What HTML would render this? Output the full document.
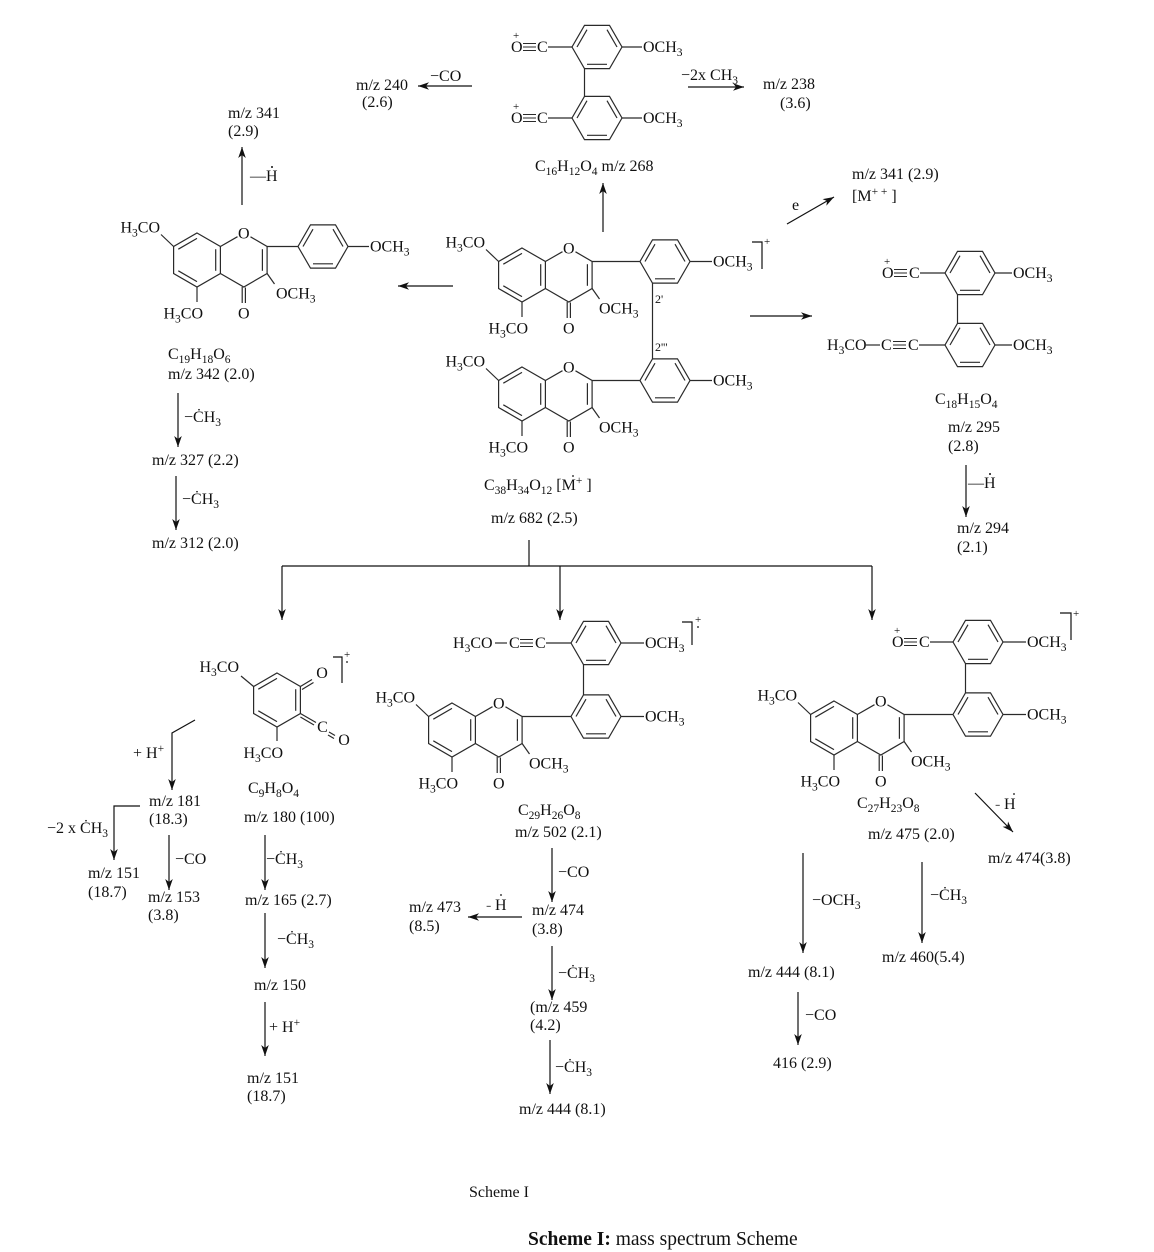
<!DOCTYPE html>
<html><head><meta charset="utf-8"><style>
html,body{margin:0;padding:0;background:#fff}
svg{display:block}
text{font-family:"Liberation Serif",serif;font-size:16px;fill:#111}
.s{font-size:11.5px}
.p{font-size:11px}
.b{stroke:#2a2a2a;stroke-width:1.2;fill:none}
.ar{stroke:#111;stroke-width:1.2;fill:none;marker-end:url(#a)}
.ln{stroke:#111;stroke-width:1.2;fill:none}
</style></head><body>
<svg width="1154" height="1252" viewBox="0 0 1154 1252" xmlns="http://www.w3.org/2000/svg">
<defs>
<marker id="a" markerWidth="12" markerHeight="10" refX="11" refY="5" orient="auto" markerUnits="userSpaceOnUse"><path d="M0,1.2 L11,5 L0,8.8 L3,5 Z" fill="#111"/></marker>
<g id="ph" fill="none" stroke="#2a2a2a" stroke-width="1.2">
<polygon points="25,0 12.5,21.65 -12.5,21.65 -25,0 -12.5,-21.65 12.5,-21.65"/>
<line x1="-20" y1="0" x2="-10" y2="-17.3"/><line x1="10" y1="-17.3" x2="20" y2="0"/><line x1="10" y1="17.3" x2="-10" y2="17.3"/>
</g>
<g id="ra" fill="none" stroke="#2a2a2a" stroke-width="1.2">
<polygon points="0,-27 23.4,-13.5 23.4,13.5 0,27 -23.4,13.5 -23.4,-13.5"/>
<line x1="-18.7" y1="-10.8" x2="0" y2="-21.6"/><line x1="18.7" y1="-10.8" x2="18.7" y2="10.8"/><line x1="0" y1="21.6" x2="-18.7" y2="10.8"/>
</g>
<g id="fl" fill="none" stroke="#2a2a2a" stroke-width="1.2">
<use href="#ra"/>
<line x1="23.4" y1="-13.5" x2="40.5" y2="-23.3"/>
<polyline points="53.5,-23.2 70.1,-13.5 70.1,13.5 46.8,27 23.4,13.5"/>
<line x1="65.4" y1="-10.8" x2="65.4" y2="10.8"/>
<line x1="45.2" y1="27" x2="45.2" y2="43"/><line x1="48.4" y1="27.5" x2="48.4" y2="43"/>
<line x1="-23.4" y1="-13.5" x2="-36" y2="-25.5"/>
<line x1="0" y1="27" x2="0" y2="42"/>
<line x1="70.1" y1="13.5" x2="77.5" y2="24"/>
</g>
<g id="tb" stroke="#2a2a2a" stroke-width="1"><line x1="0" y1="-3.5" x2="13" y2="-3.5"/><line x1="0" y1="0" x2="13" y2="0"/><line x1="0" y1="3.5" x2="13" y2="3.5"/></g>
</defs>

<!-- TOP MOLECULE C16H12O4 -->
<text x="511" y="52">O</text><text class="p" x="513" y="39">+</text><use href="#tb" x="523" y="47"/><text x="537" y="52">C</text>
<line class="b" x1="548" y1="47" x2="572" y2="47"/>
<use href="#ph" x="597" y="47"/>
<line class="b" x1="622" y1="47" x2="642" y2="47"/>
<text x="643" y="52">OCH<tspan class="s" dy="4">3</tspan></text>
<line class="b" x1="584.5" y1="68.65" x2="584.5" y2="96.35"/>
<text x="511" y="123">O</text><text class="p" x="513" y="110">+</text><use href="#tb" x="523" y="118"/><text x="537" y="123">C</text>
<line class="b" x1="548" y1="118" x2="572" y2="118"/>
<use href="#ph" x="597" y="118"/>
<line class="b" x1="622" y1="118" x2="642" y2="118"/>
<text x="643" y="123">OCH<tspan class="s" dy="4">3</tspan></text>
<text x="535" y="171">C<tspan class="s" dy="4">16</tspan><tspan dy="-4">H</tspan><tspan class="s" dy="4">12</tspan><tspan dy="-4">O</tspan><tspan class="s" dy="4">4</tspan><tspan dy="-4"> m/z 268</tspan></text>

<text x="356" y="90">m/z 240</text><text x="362" y="107">(2.6)</text>
<text x="430" y="81">−CO</text>
<line class="ar" x1="472" y1="86" x2="418" y2="86"/>
<text x="681" y="80">−2x CH<tspan class="s" dy="4">3</tspan></text>
<line class="ar" x1="688" y1="87" x2="744" y2="87"/>
<text x="763" y="89">m/z 238</text><text x="780" y="108">(3.6)</text>
<line class="ar" x1="603" y1="232" x2="603" y2="183"/>

<!-- LEFT UPPER -->
<text x="228" y="118">m/z 341</text><text x="228" y="136">(2.9)</text>
<line class="ar" x1="242" y1="205" x2="242" y2="147"/>
<text x="250" y="181">—H</text><circle cx="272" cy="167" r="1" fill="#111"/>
<line class="ar" x1="453" y1="286" x2="398" y2="286"/>

<!-- LEFT FLAVONE -->
<g transform="translate(197,260)">
<use href="#fl"/>
<line class="b" x1="70.1" y1="-13.5" x2="101" y2="-13.5"/>
<use href="#ph" x="126" y="-13.5"/>
<line class="b" x1="151" y1="-13.5" x2="172" y2="-13.5"/>
<text x="173" y="-8.5">OCH<tspan class="s" dy="4">3</tspan></text>
<text x="46.8" y="-21.5" text-anchor="middle">O</text>
<text x="-37" y="-27.5" text-anchor="end">H<tspan class="s" dy="4">3</tspan><tspan dy="-4">CO</tspan></text>
<text x="6" y="58.5" text-anchor="end">H<tspan class="s" dy="4">3</tspan><tspan dy="-4">CO</tspan></text>
<text x="46.8" y="58.5" text-anchor="middle">O</text>
<text x="79" y="38.5">OCH<tspan class="s" dy="4">3</tspan></text>
</g>
<text x="168" y="359">C<tspan class="s" dy="4">19</tspan><tspan dy="-4">H</tspan><tspan class="s" dy="4">18</tspan><tspan dy="-4">O</tspan><tspan class="s" dy="4">6</tspan></text>
<text x="168" y="379">m/z 342 (2.0)</text>
<line class="ar" x1="178" y1="393" x2="178" y2="447"/>
<text x="184" y="422">−ĊH<tspan class="s" dy="4">3</tspan></text>
<text x="152" y="465">m/z 327 (2.2)</text>
<line class="ar" x1="176" y1="476" x2="176" y2="530"/>
<text x="182" y="504">−ĊH<tspan class="s" dy="4">3</tspan></text>
<text x="152" y="548">m/z 312 (2.0)</text>

<!-- MAIN DIMER -->
<g transform="translate(522,275)">
<use href="#fl"/>
<line class="b" x1="70.1" y1="-13.5" x2="118" y2="-13.5"/>
<use href="#ph" x="143" y="-13.5"/>
<line class="b" x1="168" y1="-13.5" x2="190" y2="-13.5"/>
<text x="191" y="-8.5">OCH<tspan class="s" dy="4">3</tspan></text>
<text x="46.8" y="-21.5" text-anchor="middle">O</text>
<text x="-37" y="-27.5" text-anchor="end">H<tspan class="s" dy="4">3</tspan><tspan dy="-4">CO</tspan></text>
<text x="6" y="58.5" text-anchor="end">H<tspan class="s" dy="4">3</tspan><tspan dy="-4">CO</tspan></text>
<text x="46.8" y="58.5" text-anchor="middle">O</text>
<text x="77" y="38.5">OCH<tspan class="s" dy="4">3</tspan></text>
</g>
<g transform="translate(522,394)">
<use href="#fl"/>
<line class="b" x1="70.1" y1="-13.5" x2="118" y2="-13.5"/>
<use href="#ph" x="143" y="-13.5"/>
<line class="b" x1="168" y1="-13.5" x2="190" y2="-13.5"/>
<text x="191" y="-8.5">OCH<tspan class="s" dy="4">3</tspan></text>
<text x="46.8" y="-21.5" text-anchor="middle">O</text>
<text x="-37" y="-27.5" text-anchor="end">H<tspan class="s" dy="4">3</tspan><tspan dy="-4">CO</tspan></text>
<text x="6" y="58.5" text-anchor="end">H<tspan class="s" dy="4">3</tspan><tspan dy="-4">CO</tspan></text>
<text x="46.8" y="58.5" text-anchor="middle">O</text>
<text x="77" y="38.5">OCH<tspan class="s" dy="4">3</tspan></text>
</g>
<line class="b" x1="652.5" y1="283.2" x2="652.5" y2="358.8"/>
<text x="655" y="303" style="font-size:12px">2'</text>
<text x="655" y="351" style="font-size:12px">2'''</text>
<polyline class="ln" points="752,242 762,242 762,269"/>
<text class="p" x="764" y="245">+</text>
<text x="484" y="490">C<tspan class="s" dy="4">38</tspan><tspan dy="-4">H</tspan><tspan class="s" dy="4">34</tspan><tspan dy="-4">O</tspan><tspan class="s" dy="4">12</tspan><tspan dy="-4"> [M</tspan><tspan class="s" dy="-6">+</tspan><tspan dy="6"> ]</tspan></text>
<circle cx="573" cy="476" r="0.9" fill="#111"/>
<text x="491" y="523">m/z 682 (2.5)</text>

<!-- RIGHT UPPER -->
<text x="792" y="210">e</text>
<line class="ar" x1="787" y1="224" x2="834" y2="197"/>
<text x="852" y="179">m/z 341 (2.9)</text>
<text x="852" y="201">[M<tspan class="s" dy="-6">+ +</tspan><tspan dy="6"> ]</tspan></text>
<line class="ar" x1="750" y1="316" x2="812" y2="316"/>

<text x="882" y="278">O</text><text class="p" x="884" y="265">+</text><use href="#tb" x="894" y="273"/><text x="909" y="278">C</text>
<line class="b" x1="920" y1="273" x2="945" y2="273"/>
<use href="#ph" x="970" y="273"/>
<line class="b" x1="995" y1="273" x2="1012" y2="273"/>
<text x="1013" y="278">OCH<tspan class="s" dy="4">3</tspan></text>
<line class="b" x1="957.5" y1="294.65" x2="957.5" y2="323.35"/>
<text x="827" y="350">H<tspan class="s" dy="4">3</tspan><tspan dy="-4">CO</tspan></text>
<line class="b" x1="866" y1="345" x2="880" y2="345"/>
<text x="881" y="350">C</text><use href="#tb" x="893" y="345"/><text x="908" y="350">C</text>
<line class="b" x1="919" y1="345" x2="945" y2="345"/>
<use href="#ph" x="970" y="345"/>
<line class="b" x1="995" y1="345" x2="1012" y2="345"/>
<text x="1013" y="350">OCH<tspan class="s" dy="4">3</tspan></text>
<text x="935" y="404">C<tspan class="s" dy="4">18</tspan><tspan dy="-4">H</tspan><tspan class="s" dy="4">15</tspan><tspan dy="-4">O</tspan><tspan class="s" dy="4">4</tspan></text>
<text x="948" y="432">m/z 295</text><text x="948" y="451">(2.8)</text>
<line class="ar" x1="966" y1="465" x2="966" y2="517"/>
<text x="968" y="488">—H</text><circle cx="990" cy="474" r="1" fill="#111"/>
<text x="957" y="533">m/z 294</text><text x="957" y="552">(2.1)</text>

<!-- TREE -->
<line class="ln" x1="529" y1="540" x2="529" y2="566"/>
<line class="ln" x1="282" y1="566" x2="872" y2="566"/>
<line class="ar" x1="282" y1="566" x2="282" y2="620"/>
<line class="ar" x1="560" y1="566" x2="560" y2="620"/>
<line class="ar" x1="872" y1="566" x2="872" y2="620"/>

<!-- C9H8O4 -->
<g transform="translate(277,700)"><use href="#ra"/></g>
<line class="b" x1="300.4" y1="686.5" x2="312" y2="679.5"/>
<line class="b" x1="302" y1="689.5" x2="313.5" y2="682.5"/>
<text x="322" y="678" text-anchor="middle">O</text>
<line class="b" x1="300.4" y1="713.5" x2="316" y2="722.5"/>
<line class="b" x1="300.4" y1="717" x2="314" y2="725"/>
<text x="322.5" y="732" text-anchor="middle">C</text>
<line class="b" x1="329" y1="732" x2="335" y2="735.5"/>
<line class="b" x1="328" y1="735" x2="334" y2="738.5"/>
<text x="344" y="745" text-anchor="middle">O</text>
<line class="b" x1="253.6" y1="686.5" x2="241" y2="676"/>
<text x="239" y="672" text-anchor="end">H<tspan class="s" dy="4">3</tspan><tspan dy="-4">CO</tspan></text>
<line class="b" x1="277" y1="727" x2="277" y2="741"/>
<text x="283" y="758" text-anchor="end">H<tspan class="s" dy="4">3</tspan><tspan dy="-4">CO</tspan></text>
<polyline class="ln" points="333,657 342,657 342,683"/>
<text class="p" x="344" y="658">+</text><circle cx="347" cy="662" r="0.9" fill="#111"/>
<text x="248" y="793">C<tspan class="s" dy="4">9</tspan><tspan dy="-4">H</tspan><tspan class="s" dy="4">8</tspan><tspan dy="-4">O</tspan><tspan class="s" dy="4">4</tspan></text>
<text x="244" y="822">m/z 180 (100)</text>
<line class="ar" x1="265" y1="835" x2="265" y2="890"/>
<text x="266" y="864">−ĊH<tspan class="s" dy="4">3</tspan></text>
<text x="245" y="905">m/z 165 (2.7)</text>
<line class="ar" x1="265" y1="913" x2="265" y2="968"/>
<text x="277" y="944">−ĊH<tspan class="s" dy="4">3</tspan></text>
<text x="254" y="990">m/z 150</text>
<line class="ar" x1="265" y1="1002" x2="265" y2="1056"/>
<text x="269" y="1032">+ H<tspan class="s" dy="-6">+</tspan></text>
<text x="247" y="1083">m/z 151</text><text x="247" y="1101">(18.7)</text>

<text x="133" y="758">+ H<tspan class="s" dy="-6">+</tspan></text>
<polyline class="ar" points="195,720 172,733 172,790"/>
<text x="149" y="806">m/z 181</text><text x="149" y="824">(18.3)</text>
<polyline class="ar" points="140,806 114,806 114,860"/>
<text x="47" y="833">−2 x ĊH<tspan class="s" dy="4">3</tspan></text>
<text x="88" y="878">m/z 151</text><text x="88" y="897">(18.7)</text>
<line class="ar" x1="169" y1="835" x2="169" y2="890"/>
<text x="175" y="864">−CO</text>
<text x="148" y="902">m/z 153</text><text x="148" y="920">(3.8)</text>

<!-- C29H26O8 -->
<g transform="translate(452,730)">
<use href="#fl"/>
<line class="b" x1="70.1" y1="-13.5" x2="119" y2="-13.5"/>
<use href="#ph" x="144" y="-13.5"/>
<line class="b" x1="169" y1="-13.5" x2="192" y2="-13.5"/>
<text x="193" y="-8.5">OCH<tspan class="s" dy="4">3</tspan></text>
<text x="46.8" y="-21.5" text-anchor="middle">O</text>
<text x="-37" y="-27.5" text-anchor="end">H<tspan class="s" dy="4">3</tspan><tspan dy="-4">CO</tspan></text>
<text x="6" y="58.5" text-anchor="end">H<tspan class="s" dy="4">3</tspan><tspan dy="-4">CO</tspan></text>
<text x="46.8" y="58.5" text-anchor="middle">O</text>
<text x="77" y="38.5">OCH<tspan class="s" dy="4">3</tspan></text>
</g>
<use href="#ph" x="596" y="643"/>
<line class="b" x1="583.5" y1="664.65" x2="583.5" y2="694.85"/>
<line class="b" x1="621" y1="643" x2="644" y2="643"/>
<text x="645" y="648">OCH<tspan class="s" dy="4">3</tspan></text>
<text x="453" y="648">H<tspan class="s" dy="4">3</tspan><tspan dy="-4">CO</tspan></text>
<line class="b" x1="495" y1="643" x2="507" y2="643"/>
<text x="509" y="648">C</text><use href="#tb" x="520" y="643"/><text x="535" y="648">C</text>
<line class="b" x1="546" y1="643" x2="571" y2="643"/>
<polyline class="ln" points="682,622 692,622 692,645"/>
<text class="p" x="695" y="623">+</text><circle cx="698" cy="627" r="0.9" fill="#111"/>
<text x="518" y="815">C<tspan class="s" dy="4">29</tspan><tspan dy="-4">H</tspan><tspan class="s" dy="4">26</tspan><tspan dy="-4">O</tspan><tspan class="s" dy="4">8</tspan></text>
<text x="515" y="837">m/z 502 (2.1)</text>
<line class="ar" x1="552" y1="848" x2="552" y2="902"/>
<text x="558" y="877">−CO</text>
<text x="532" y="915">m/z 474</text><text x="532" y="934">(3.8)</text>
<line class="ar" x1="522" y1="917" x2="468" y2="917"/>
<text x="486" y="910" style="fill:#666">-</text><text x="495" y="910">H</text><circle cx="501" cy="895" r="0.9" fill="#111"/>
<text x="409" y="912">m/z 473</text><text x="409" y="931">(8.5)</text>
<line class="ar" x1="552" y1="946" x2="552" y2="1000"/>
<text x="558" y="978">−ĊH<tspan class="s" dy="4">3</tspan></text>
<text x="530" y="1012">(m/z 459</text><text x="530" y="1030">(4.2)</text>
<line class="ar" x1="550" y1="1040" x2="550" y2="1094"/>
<text x="555" y="1072">−ĊH<tspan class="s" dy="4">3</tspan></text>
<text x="519" y="1114">m/z 444 (8.1)</text>

<!-- C27H23O8 -->
<g transform="translate(834,728)">
<use href="#fl"/>
<line class="b" x1="70.1" y1="-13.5" x2="119" y2="-13.5"/>
<use href="#ph" x="144" y="-13.5"/>
<line class="b" x1="169" y1="-13.5" x2="192" y2="-13.5"/>
<text x="193" y="-8.5">OCH<tspan class="s" dy="4">3</tspan></text>
<text x="46.8" y="-21.5" text-anchor="middle">O</text>
<text x="-37" y="-27.5" text-anchor="end">H<tspan class="s" dy="4">3</tspan><tspan dy="-4">CO</tspan></text>
<text x="6" y="58.5" text-anchor="end">H<tspan class="s" dy="4">3</tspan><tspan dy="-4">CO</tspan></text>
<text x="46.8" y="58.5" text-anchor="middle">O</text>
<text x="77" y="38.5">OCH<tspan class="s" dy="4">3</tspan></text>
</g>
<use href="#ph" x="978" y="642"/>
<line class="b" x1="965.5" y1="663.65" x2="965.5" y2="692.85"/>
<line class="b" x1="1003" y1="642" x2="1026" y2="642"/>
<text x="1027" y="647">OCH<tspan class="s" dy="4">3</tspan></text>
<text x="892" y="647">O</text><text class="p" x="894" y="634">+</text><use href="#tb" x="904" y="642"/><text x="919" y="647">C</text>
<line class="b" x1="930" y1="642" x2="953" y2="642"/>
<polyline class="ln" points="1060,613 1071,613 1071,640"/>
<text class="p" x="1073" y="617">+</text>
<text x="857" y="808">C<tspan class="s" dy="4">27</tspan><tspan dy="-4">H</tspan><tspan class="s" dy="4">23</tspan><tspan dy="-4">O</tspan><tspan class="s" dy="4">8</tspan></text>
<text x="868" y="839">m/z 475 (2.0)</text>
<line class="ar" x1="975" y1="793" x2="1013" y2="832"/>
<text x="995" y="809" style="fill:#666">-</text><text x="1004" y="809">H</text><circle cx="1014" cy="794" r="0.9" fill="#111"/>
<text x="988" y="863">m/z 474(3.8)</text>
<line class="ar" x1="803" y1="853" x2="803" y2="953"/>
<text x="812" y="905">−OCH<tspan class="s" dy="4">3</tspan></text>
<text x="748" y="977">m/z 444 (8.1)</text>
<line class="ar" x1="798" y1="992" x2="798" y2="1045"/>
<text x="805" y="1020">−CO</text>
<text x="773" y="1068">416 (2.9)</text>
<line class="ar" x1="922" y1="862" x2="922" y2="943"/>
<text x="930" y="900">−ĊH<tspan class="s" dy="4">3</tspan></text>
<text x="882" y="962">m/z 460(5.4)</text>

<!-- FOOTER -->
<text x="469" y="1197">Scheme I</text>
<text x="528" y="1245" style="font-size:19.5px"><tspan font-weight="bold">Scheme I:</tspan> mass spectrum Scheme</text>
</svg>
</body></html>
